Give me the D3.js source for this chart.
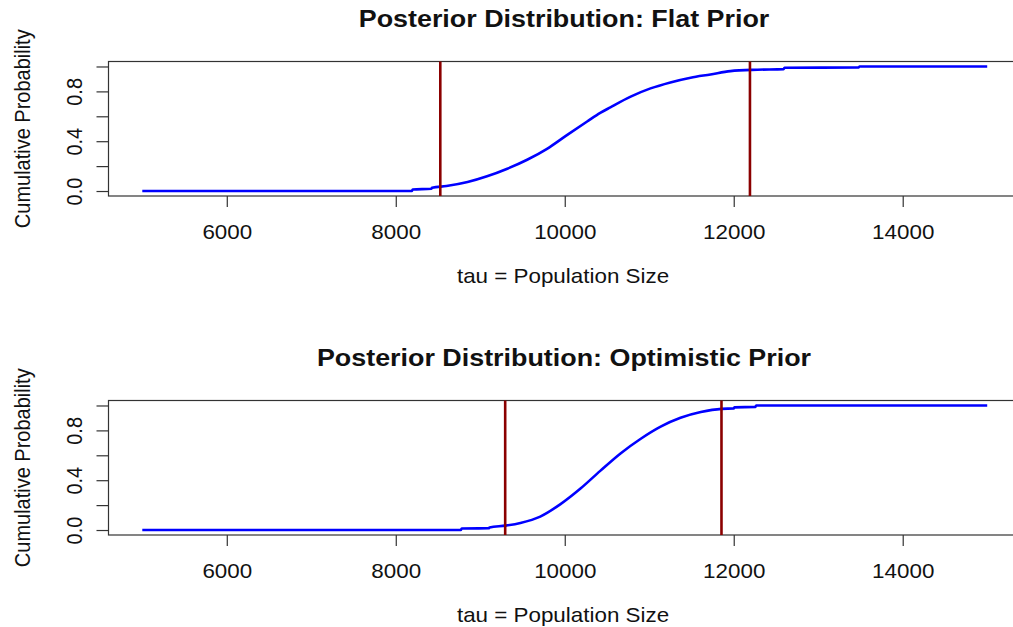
<!DOCTYPE html>
<html lang="en">
<head>
  <meta charset="UTF-8">
  <title>Posterior Distribution</title>
  <script src="https://cdn.jsdelivr.net/npm/d3@7"></script>
  <style>
    body { margin: 0; background: #fff; }
    svg { display: block; }
    text { font-family: "Liberation Sans", Arial, sans-serif; fill: #111; }
    .axis path, .axis line { stroke: #333; stroke-width: 1.2px; }
    .box { fill: none; stroke: #333; stroke-width: 1.2px; }
    .cdf { fill: none; stroke: #0000ff; stroke-width: 2.6px; stroke-linejoin: round; }
    .ci { stroke: #8b0000; stroke-width: 2.6px; }
  </style>
</head>
<body>
<div class="chart"></div>
<script>
  // values
  const titles = ['Posterior Distribution: Flat Prior', 'Posterior Distribution: Optimistic Prior'];
  const tauFlat = [5000, 8190, 8200, 8420, 8430, 8600, 8850, 9080, 9320, 9555, 9790, 10030, 10265, 10420,
    10540, 10780, 11015, 11250, 11490, 11725, 11960, 12280, 12590, 12600, 13480, 13490, 15000];
  const cdfFlat = [0, 0, 0.012, 0.018, 0.026, 0.040, 0.072, 0.118, 0.179, 0.251, 0.339, 0.451, 0.558, 0.627,
    0.672, 0.758, 0.824, 0.872, 0.910, 0.936, 0.963, 0.974, 0.979, 0.990, 0.992, 1.0, 1.0];
  const tauOpt = [5000, 8770, 8780, 9100, 9110, 9300, 9475, 9710, 9950, 10190, 10420, 10660, 10900, 11135,
    11370, 11610, 11857, 12000, 12010, 12255, 12265, 15000];
  const cdfOpt = [0, 0, 0.012, 0.014, 0.020, 0.035, 0.057, 0.108, 0.208, 0.335, 0.475, 0.615, 0.733, 0.830,
    0.901, 0.947, 0.973, 0.976, 0.985, 0.988, 1.0, 1.0];
  const intervalFlat = [8527, 12192];
  const intervalOpt = [9295, 11855];
  const xTicks = [6000, 8000, 10000, 12000, 14000];
  const yTicks = [0, 0.2, 0.4, 0.6, 0.8, 1.0];
  const yTickLabels = ['0.0', '', '0.4', '', '0.8', ''];
  const xLabel = 'tau = Population Size';
  const yLabel = 'Cumulative Probability';

  const W = 1013, H = 627;
  const sx = 1.12; // the picture is a bit wider than tall
  const panels = [
    {title: titles[0], tau: tauFlat, cdf: cdfFlat, ci: intervalFlat, top: 61.5, bottom: 196, titleY: 27},
    {title: titles[1], tau: tauOpt, cdf: cdfOpt, ci: intervalOpt, top: 400.5, bottom: 535, titleY: 366}
  ];

  const svg = d3.select('.chart').append('svg').attr('width', W).attr('height', H);

  const x = d3.scaleLinear().domain([4600, 15400]).range([108.5, 1021]);

  panels.forEach(p => {
    const y = d3.scaleLinear().domain([-0.04, 1.04]).range([p.bottom, p.top]);
    const g = svg.append('g');

    g.append('rect').attr('class', 'box')
      .attr('x', x.range()[0]).attr('y', p.top)
      .attr('width', x.range()[1] - x.range()[0]).attr('height', p.bottom - p.top);

    // x axis
    const xa = g.append('g').attr('class', 'axis')
      .attr('transform', `translate(0 ${p.bottom})`)
      .call(d3.axisBottom(x).tickValues(xTicks).tickSize(11).tickSizeOuter(0).tickFormat(d3.format('d')));
    xa.select('.domain').remove();
    xa.selectAll('text')
      .attr('y', 43).attr('dy', 0)
      .attr('font-size', 20)
      .attr('transform', `scale(${sx} 1)`);

    // y axis
    const ya = g.append('g').attr('class', 'axis')
      .attr('transform', `translate(${x.range()[0]} 0)`)
      .call(d3.axisLeft(y).tickValues(yTicks).tickSize(12).tickSizeOuter(0).tickFormat((d, i) => yTickLabels[i]));
    ya.select('.domain').remove();
    ya.selectAll('text')
      .attr('x', 0).attr('y', 0).attr('dy', 0)
      .attr('font-size', 20)
      .attr('text-anchor', 'middle')
      .attr('transform', `translate(-27 0) scale(${sx} 1) rotate(-90)`);

    // curve
    const line = d3.line().x(d => x(d[0])).y(d => y(d[1])).curve(d3.curveMonotoneX);
    g.append('path').attr('class', 'cdf')
      .attr('d', line(d3.zip(p.tau, p.cdf)));

    // interval lines
    g.selectAll('.ci').data(p.ci).enter().append('line').attr('class', 'ci')
      .attr('x1', d => x(d)).attr('x2', d => x(d))
      .attr('y1', p.top).attr('y2', p.bottom);

    // texts
    g.append('text')
      .attr('transform', `translate(564 ${p.titleY}) scale(${sx} 1)`)
      .attr('text-anchor', 'middle').attr('font-size', 24).attr('font-weight', 'bold')
      .text(p.title);

    g.append('text')
      .attr('transform', `translate(563 ${p.bottom + 87}) scale(${sx} 1)`)
      .attr('text-anchor', 'middle').attr('font-size', 20)
      .text(xLabel);

    g.append('text')
      .attr('transform', `translate(30 ${(p.top + p.bottom) / 2}) scale(${sx} 1) rotate(-90)`)
      .attr('text-anchor', 'middle').attr('font-size', 20)
      .text(yLabel);
  });
</script>
</body>
</html>
